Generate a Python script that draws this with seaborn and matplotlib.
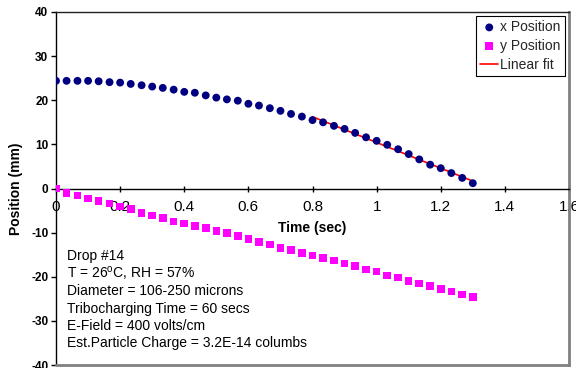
import matplotlib
matplotlib.use("Agg")
import matplotlib.pyplot as plt
import pandas as pd
import seaborn as sns

# Frame times (s), 30 frames per second
time_s = [0.000, 0.033, 0.067, 0.100, 0.133, 0.167, 0.200, 0.233, 0.267, 0.300,
          0.333, 0.367, 0.400, 0.433, 0.467, 0.500, 0.533, 0.567, 0.600, 0.633,
          0.667, 0.700, 0.733, 0.767, 0.800, 0.833, 0.867, 0.900, 0.933, 0.967,
          1.000, 1.033, 1.067, 1.100, 1.133, 1.167, 1.200, 1.233, 1.267, 1.300]

# Particle position (mm)
x_pos = [24.4, 24.4, 24.4, 24.4, 24.3, 24.1, 24.0, 23.7, 23.4, 23.1,
         22.8, 22.4, 21.9, 21.7, 21.1, 20.6, 20.2, 19.9, 19.2, 18.8,
         18.2, 17.6, 16.9, 16.3, 15.5, 15.0, 14.2, 13.5, 12.6, 11.6,
         10.8, 9.9, 8.9, 7.8, 6.6, 5.4, 4.6, 3.5, 2.4, 1.2]
y_pos = [0.0, -1.0, -1.6, -2.3, -2.9, -3.4, -4.1, -4.7, -5.5, -6.1,
         -6.7, -7.5, -7.9, -8.5, -9.0, -9.6, -10.1, -10.8, -11.4, -12.1,
         -12.7, -13.5, -14.0, -14.6, -15.2, -15.7, -16.3, -17.0, -17.5, -18.4,
         -18.8, -19.7, -20.2, -20.9, -21.5, -22.1, -22.8, -23.3, -24.0, -24.6]

# Linear fit applied to the x position from this time on
fit_start_time = 0.8

x_ticks = [0, 0.2, 0.4, 0.6, 0.8, 1.0, 1.2, 1.4, 1.6]
x_tick_labels = ["0", "0.2", "0.4", "0.6", "0.8", "1", "1.2", "1.4", "1.6"]
y_ticks = [-40, -30, -20, -10, 0, 10, 20, 30, 40]
y_tick_labels = ["-40", "-30", "-20", "-10", "0", "10", "20", "30", "40"]

note_lines = [
    "Drop #14",
    r"T = 26$^o$C, RH = 57%",
    "Diameter = 106-250 microns",
    "Tribocharging Time = 60 secs",
    "E-Field = 400 volts/cm",
    "Est.Particle Charge = 3.2E-14 columbs",
]

df = pd.DataFrame({"time": time_s, "x": x_pos, "y": y_pos})
fit_df = df[df["time"] >= fit_start_time - 1e-9]

sns.set_theme(style="white")
plt.rcParams["font.family"] = ["Liberation Sans", "DejaVu Sans"]
plt.rcParams["mathtext.default"] = "regular"

fig = plt.figure(figsize=(5.76, 3.68), dpi=100)
ax = fig.add_axes([56 / 576, 3 / 368, 513 / 576, 353 / 368])

sns.scatterplot(data=df, x="time", y="x", marker="o", s=32, color="#000080",
                edgecolor="none", linewidth=0, label="x Position", zorder=3, ax=ax)
sns.scatterplot(data=df, x="time", y="y", marker="s", s=30, color="#FF00FF",
                edgecolor="none", linewidth=0, label="y Position", zorder=3, ax=ax)
sns.regplot(data=fit_df, x="time", y="x", scatter=False, ci=None, truncate=True,
            color="#FF0000", label="Linear fit",
            line_kws={"linewidth": 1.2, "zorder": 2}, ax=ax)

ax.set_xlim(0, 1.6)
ax.set_ylim(-40, 40)

ax.set_xticks(x_ticks)
ax.set_xticklabels(x_tick_labels, fontsize=8.5, fontweight="bold")
ax.set_yticks(y_ticks)
ax.set_yticklabels(y_tick_labels, fontsize=8.5, fontweight="bold")

# x axis runs through zero; frame drawn around the plot area
ax.spines["bottom"].set_position(("data", 0))
ax.spines["bottom"].set_color("black")
ax.spines["bottom"].set_linewidth(1.0)
ax.spines["left"].set_color("black")
ax.spines["left"].set_linewidth(1.0)
ax.spines["top"].set_color("#202020")
ax.spines["top"].set_linewidth(1.0)
ax.spines["right"].set_color("#808080")
ax.spines["right"].set_linewidth(2.0)
ax.axhline(-40, color="#808080", linewidth=2.0, clip_on=False, zorder=4)

ax.tick_params(axis="x", bottom=True, direction="inout", length=5, width=1,
               color="black", pad=5.5, labelcolor="black")
ax.tick_params(axis="y", left=True, direction="out", length=3.5, width=1,
               color="black", pad=2, labelcolor="black")

ax.set_xlabel("Time (sec)", fontsize=10, fontweight="bold", labelpad=5, color="black")
ax.set_ylabel("Position (mm)", fontsize=10, fontweight="bold", labelpad=6, color="black")

baselines = [0.2975, 0.2479, 0.1983, 0.1487, 0.0992, 0.0499]
for line, yb in zip(note_lines, baselines):
    ax.text(0.021, yb, line, transform=ax.transAxes, fontsize=10,
            ha="left", va="baseline", color="black")

handles, labels = ax.get_legend_handles_labels()
leg = ax.legend(handles, labels, loc="upper right", bbox_to_anchor=(0.992, 0.989),
                fontsize=10, frameon=True, fancybox=False, edgecolor="black",
                framealpha=1, borderpad=0.3, labelspacing=0.35, handlelength=1.3,
                handletextpad=0.15, borderaxespad=0)
leg.get_frame().set_linewidth(0.8)

fig.savefig("out.png", dpi=100)
